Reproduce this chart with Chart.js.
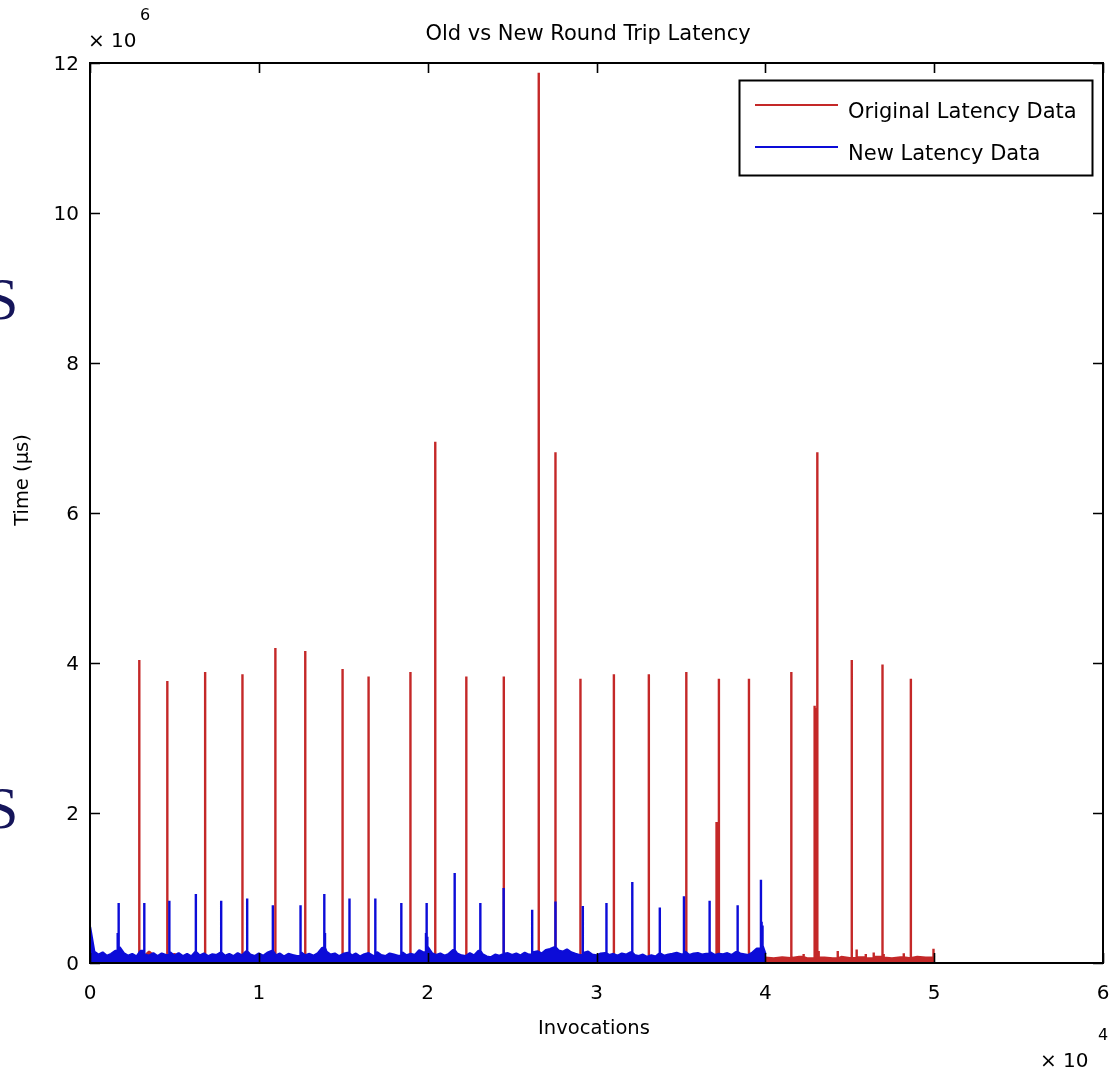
<!DOCTYPE html>
<html>
<head>
<meta charset="utf-8">
<title>Old vs New Round Trip Latency</title>
<script src="https://cdn.jsdelivr.net/npm/chart.js@4.4.1/dist/chart.umd.min.js"></script>
<style>
  html, body { margin: 0; padding: 0; background: #fff; }
  #wrap { width: 1115px; height: 1071px; }
</style>
</head>
<body>
<div id="wrap"><canvas id="latencyChart" width="1115" height="1071"></canvas></div>
<script>
// sample spacing (invocations) of the baseline readings
const newStep = 250;
const oldStep = 500;

// baseline latency (µs), New data, one reading per 250 invocations (0 .. 40000)
const newBase = [
  480000, 150000, 110000, 140000, 95000, 120000, 160000, 210000, 130000, 95000,
  120000, 85000, 160000, 115000, 95000, 130000, 90000, 125000, 105000, 140000,
  95000, 130000, 90000, 120000, 85000, 150000, 100000, 125000, 90000, 115000,
  105000, 140000, 95000, 120000, 90000, 130000, 100000, 155000, 110000, 90000,
  125000, 95000, 135000, 160000, 100000, 125000, 85000, 120000, 105000, 90000,
  140000, 100000, 120000, 95000, 130000, 200000, 150000, 110000, 125000, 90000,
  120000, 135000, 95000, 125000, 85000, 115000, 130000, 95000, 145000, 105000,
  90000, 125000, 110000, 95000, 140000, 100000, 120000, 105000, 170000, 140000,
  220000, 130000, 105000, 125000, 95000, 120000, 170000, 125000, 100000, 90000,
  130000, 100000, 160000, 115000, 85000, 75000, 110000, 95000, 120000, 130000,
  105000, 125000, 100000, 135000, 110000, 140000, 155000, 125000, 170000, 185000,
  210000, 165000, 150000, 180000, 140000, 120000, 105000, 135000, 150000, 110000,
  100000, 125000, 130000, 105000, 120000, 95000, 125000, 110000, 140000, 105000,
  90000, 110000, 80000, 100000, 85000, 130000, 95000, 110000, 120000, 135000,
  115000, 150000, 105000, 125000, 130000, 110000, 120000, 140000, 105000, 120000,
  115000, 130000, 105000, 145000, 125000, 115000, 105000, 140000, 190000, 230000,
  120000
];

// baseline latency (µs), Original data, one reading per 500 invocations (0 .. 50000)
const oldBase = [
  60000, 90000, 60000, 50000, 55000, 60000, 45000, 150000, 60000, 50000,
  120000, 55000, 45000, 60000, 50000, 55000, 65000, 50000, 45000, 60000,
  55000, 50000, 60000, 45000, 50000, 55000, 60000, 50000, 45000, 55000,
  60000, 50000, 45000, 55000, 60000, 50000, 55000, 45000, 50000, 60000,
  55000, 50000, 45000, 60000, 50000, 55000, 60000, 50000, 45000, 55000,
  60000, 50000, 55000, 45000, 150000, 60000, 50000, 55000, 45000, 50000,
  55000, 60000, 50000, 45000, 55000, 60000, 50000, 55000, 45000, 50000,
  60000, 55000, 45000, 50000, 55000, 60000, 50000, 45000, 55000, 60000,
  70000, 60000, 75000, 65000, 80000, 60000, 75000, 70000, 60000, 80000,
  65000, 75000, 60000, 80000, 70000, 60000, 75000, 65000, 80000, 70000,
  90000
];

// Original data: periodic latency spikes (invocation, µs)
const oldSpikeX = [
  2920, 4580, 6820, 9030, 10970, 12750, 14960, 16500, 18970, 20450,
  22290, 24510, 26580, 27570, 29050, 31030, 33100, 35320, 37250, 39030,
  41540, 43080, 45120, 46940, 48620,
  37110, 37150, 37190, 42920, 42960, 43000,
  42270, 43160, 44290, 45410, 45950, 46420, 47010, 48200, 49960
];
const oldSpikeY = [
  4.04e6, 3.76e6, 3.88e6, 3.85e6, 4.20e6, 4.16e6, 3.92e6, 3.82e6, 3.88e6, 6.95e6,
  3.82e6, 3.82e6, 11.87e6, 6.81e6, 3.79e6, 3.85e6, 3.85e6, 3.88e6, 3.79e6, 3.79e6,
  3.88e6, 6.81e6, 4.04e6, 3.98e6, 3.79e6,
  1.88e6, 1.80e6, 1.85e6, 3.43e6, 3.35e6, 3.40e6,
  1.2e5, 1.6e5, 1.6e5, 1.8e5, 1.2e5, 1.4e5, 1.2e5, 1.3e5, 1.9e5
];

// New data: latency spikes (invocation, µs)
const newSpikeX = [
  1680, 3200, 4700, 6270, 7770, 9310, 10830, 12470, 13860, 15370,
  16900, 18440, 19940, 21600, 23120, 24500, 26190, 27570, 29190, 30590,
  32120, 33750, 35180, 36700, 38360, 39740,
  1640, 1710, 13890, 13920, 19900, 19970, 39780, 39810, 39850
];
const newSpikeY = [
  0.80e6, 0.80e6, 0.83e6, 0.92e6, 0.83e6, 0.86e6, 0.77e6, 0.77e6, 0.92e6, 0.86e6,
  0.86e6, 0.80e6, 0.80e6, 1.20e6, 0.80e6, 1.00e6, 0.71e6, 0.82e6, 0.76e6, 0.80e6,
  1.08e6, 0.74e6, 0.89e6, 0.83e6, 0.77e6, 1.11e6,
  0.40e6, 0.35e6, 0.47e6, 0.40e6, 0.40e6, 0.35e6, 0.55e6, 0.50e6, 0.30e6
];

const xTicks = [0, 1, 2, 3, 4, 5, 6];           // ×10^4
const yTicks = [0, 2, 4, 6, 8, 10, 12];         // ×10^6

const RED = '#c42828';
const BLUE = '#0c0cd8';
const FONT = "'DejaVu Sans', Verdana, sans-serif";

function buildSeries(step, base, spikeX, spikeY) {
  const spikes = spikeX.map((x, i) => ({ x, y: spikeY[i] })).sort((a, b) => a.x - b.x);
  const pts = [];
  let s = 0;
  base.forEach((v, i) => {
    const x = i * step;
    pts.push({ x, y: v });
    while (s < spikes.length && (spikes[s].x < x + step || i === base.length - 1)) {
      const sp = spikes[s];
      pts.push({ x: sp.x, y: v }, { x: sp.x, y: sp.y }, { x: sp.x, y: v });
      s++;
    }
  });
  return pts;
}

// box with inward ticks on all four sides, like the original plot
const axesBox = {
  id: 'axesBox',
  afterDatasetsDraw(chart) {
    const { ctx, chartArea: a, scales } = chart;
    ctx.save();
    ctx.strokeStyle = '#000';
    ctx.lineWidth = 2;
    ctx.strokeRect(a.left, a.top, a.right - a.left, a.bottom - a.top);
    ctx.beginPath();
    scales.x.ticks.forEach(t => {
      const px = Math.round(scales.x.getPixelForValue(t.value)) + 0.5;
      ctx.moveTo(px, a.bottom); ctx.lineTo(px, a.bottom - 10);
      ctx.moveTo(px, a.top); ctx.lineTo(px, a.top + 10);
    });
    scales.y.ticks.forEach(t => {
      const py = Math.round(scales.y.getPixelForValue(t.value)) + 0.5;
      ctx.moveTo(a.left, py); ctx.lineTo(a.left + 10, py);
      ctx.moveTo(a.right, py); ctx.lineTo(a.right - 10, py);
    });
    ctx.lineWidth = 1.6;
    ctx.stroke();
    ctx.restore();
  }
};

// titles, exponent notes and the boxed legend
const decor = {
  id: 'decor',
  afterDraw(chart) {
    const { ctx } = chart;
    ctx.save();
    ctx.fillStyle = '#000';
    ctx.textBaseline = 'middle';

    ctx.font = '21px ' + FONT;
    ctx.textAlign = 'center';
    ctx.fillText('Old vs New Round Trip Latency', 588, 35);

    ctx.font = '19.5px ' + FONT;
    ctx.fillText('Invocations', 594, 1029);
    ctx.save();
    ctx.translate(23, 480);
    ctx.rotate(-Math.PI / 2);
    ctx.fillText('Time (µs)', 0, 0);
    ctx.restore();

    ctx.textAlign = 'left';
    ctx.font = '20px ' + FONT;
    ctx.fillText('× 10', 88, 42);
    ctx.fillText('× 10', 1040, 1062);
    ctx.font = '16px ' + FONT;
    ctx.fillText('6', 140, 16);
    ctx.fillText('4', 1098, 1036);

    // legend
    const lx = 739.5, ly = 80.5, lw = 353, lh = 95;
    ctx.fillStyle = '#fff';
    ctx.fillRect(lx, ly, lw, lh);
    ctx.strokeStyle = '#000';
    ctx.lineWidth = 2;
    ctx.strokeRect(lx, ly, lw, lh);
    ctx.font = '21px ' + FONT;
    chart.data.datasets.forEach((ds, i) => {
      const y = 105 + i * 42;
      ctx.strokeStyle = ds.borderColor;
      ctx.lineWidth = 1.8;
      ctx.beginPath();
      ctx.moveTo(755, y);
      ctx.lineTo(838, y);
      ctx.stroke();
      ctx.fillStyle = '#000';
      ctx.fillText(ds.label, 848, y + 8);
    });

    // slide letters cut off at the left edge
    ctx.fillStyle = '#15155a';
    ctx.font = '60px "Liberation Serif", serif';
    ctx.fillText('S', -15, 303);
    ctx.fillText('S', -15, 812);
    ctx.restore();
  }
};

const tickFont = { family: FONT, size: 20 };

new Chart(document.getElementById('latencyChart').getContext('2d'), {
  type: 'line',
  data: {
    datasets: [
      {
        label: 'Original Latency Data',
        data: buildSeries(oldStep, oldBase, oldSpikeX, oldSpikeY),
        borderColor: RED,
        backgroundColor: RED,
        fill: 'origin',
        order: 2
      },
      {
        label: 'New Latency Data',
        data: buildSeries(newStep, newBase, newSpikeX, newSpikeY),
        borderColor: BLUE,
        backgroundColor: BLUE,
        fill: 'origin',
        order: 1
      }
    ]
  },
  options: {
    responsive: false,
    animation: false,
    devicePixelRatio: 1,
    parsing: false,
    elements: {
      line: { borderWidth: 2.4, tension: 0, borderJoinStyle: 'bevel' },
      point: { radius: 0 }
    },
    layout: { padding: { top: 63, right: 12, left: 0, bottom: 0 } },
    plugins: {
      legend: { display: false },
      title: { display: false },
      tooltip: { enabled: false }
    },
    scales: {
      x: {
        type: 'linear',
        min: 0,
        max: 60000,
        afterBuildTicks(scale) {
          scale.ticks = xTicks.map(v => ({ value: v * 1e4 }));
        },
        ticks: {
          font: tickFont,
          color: '#000',
          padding: 19,
          maxRotation: 0,
          callback: v => v / 1e4
        },
        grid: { display: false, drawTicks: false },
        border: { display: false },
        afterFit(scale) {
          scale.height = 108;
          scale.paddingLeft = 0;
          scale.paddingRight = 0;
        }
      },
      y: {
        type: 'linear',
        min: 0,
        max: 12e6,
        afterBuildTicks(scale) {
          scale.ticks = yTicks.map(v => ({ value: v * 1e6 }));
        },
        ticks: {
          font: tickFont,
          color: '#000',
          padding: 11,
          labelOffset: 2,
          callback: v => v / 1e6
        },
        grid: { display: false, drawTicks: false },
        border: { display: false },
        afterFit(scale) {
          scale.width = 90;
          scale.paddingTop = 0;
          scale.paddingBottom = 0;
        }
      }
    }
  },
  plugins: [axesBox, decor]
});
</script>
</body>
</html>
